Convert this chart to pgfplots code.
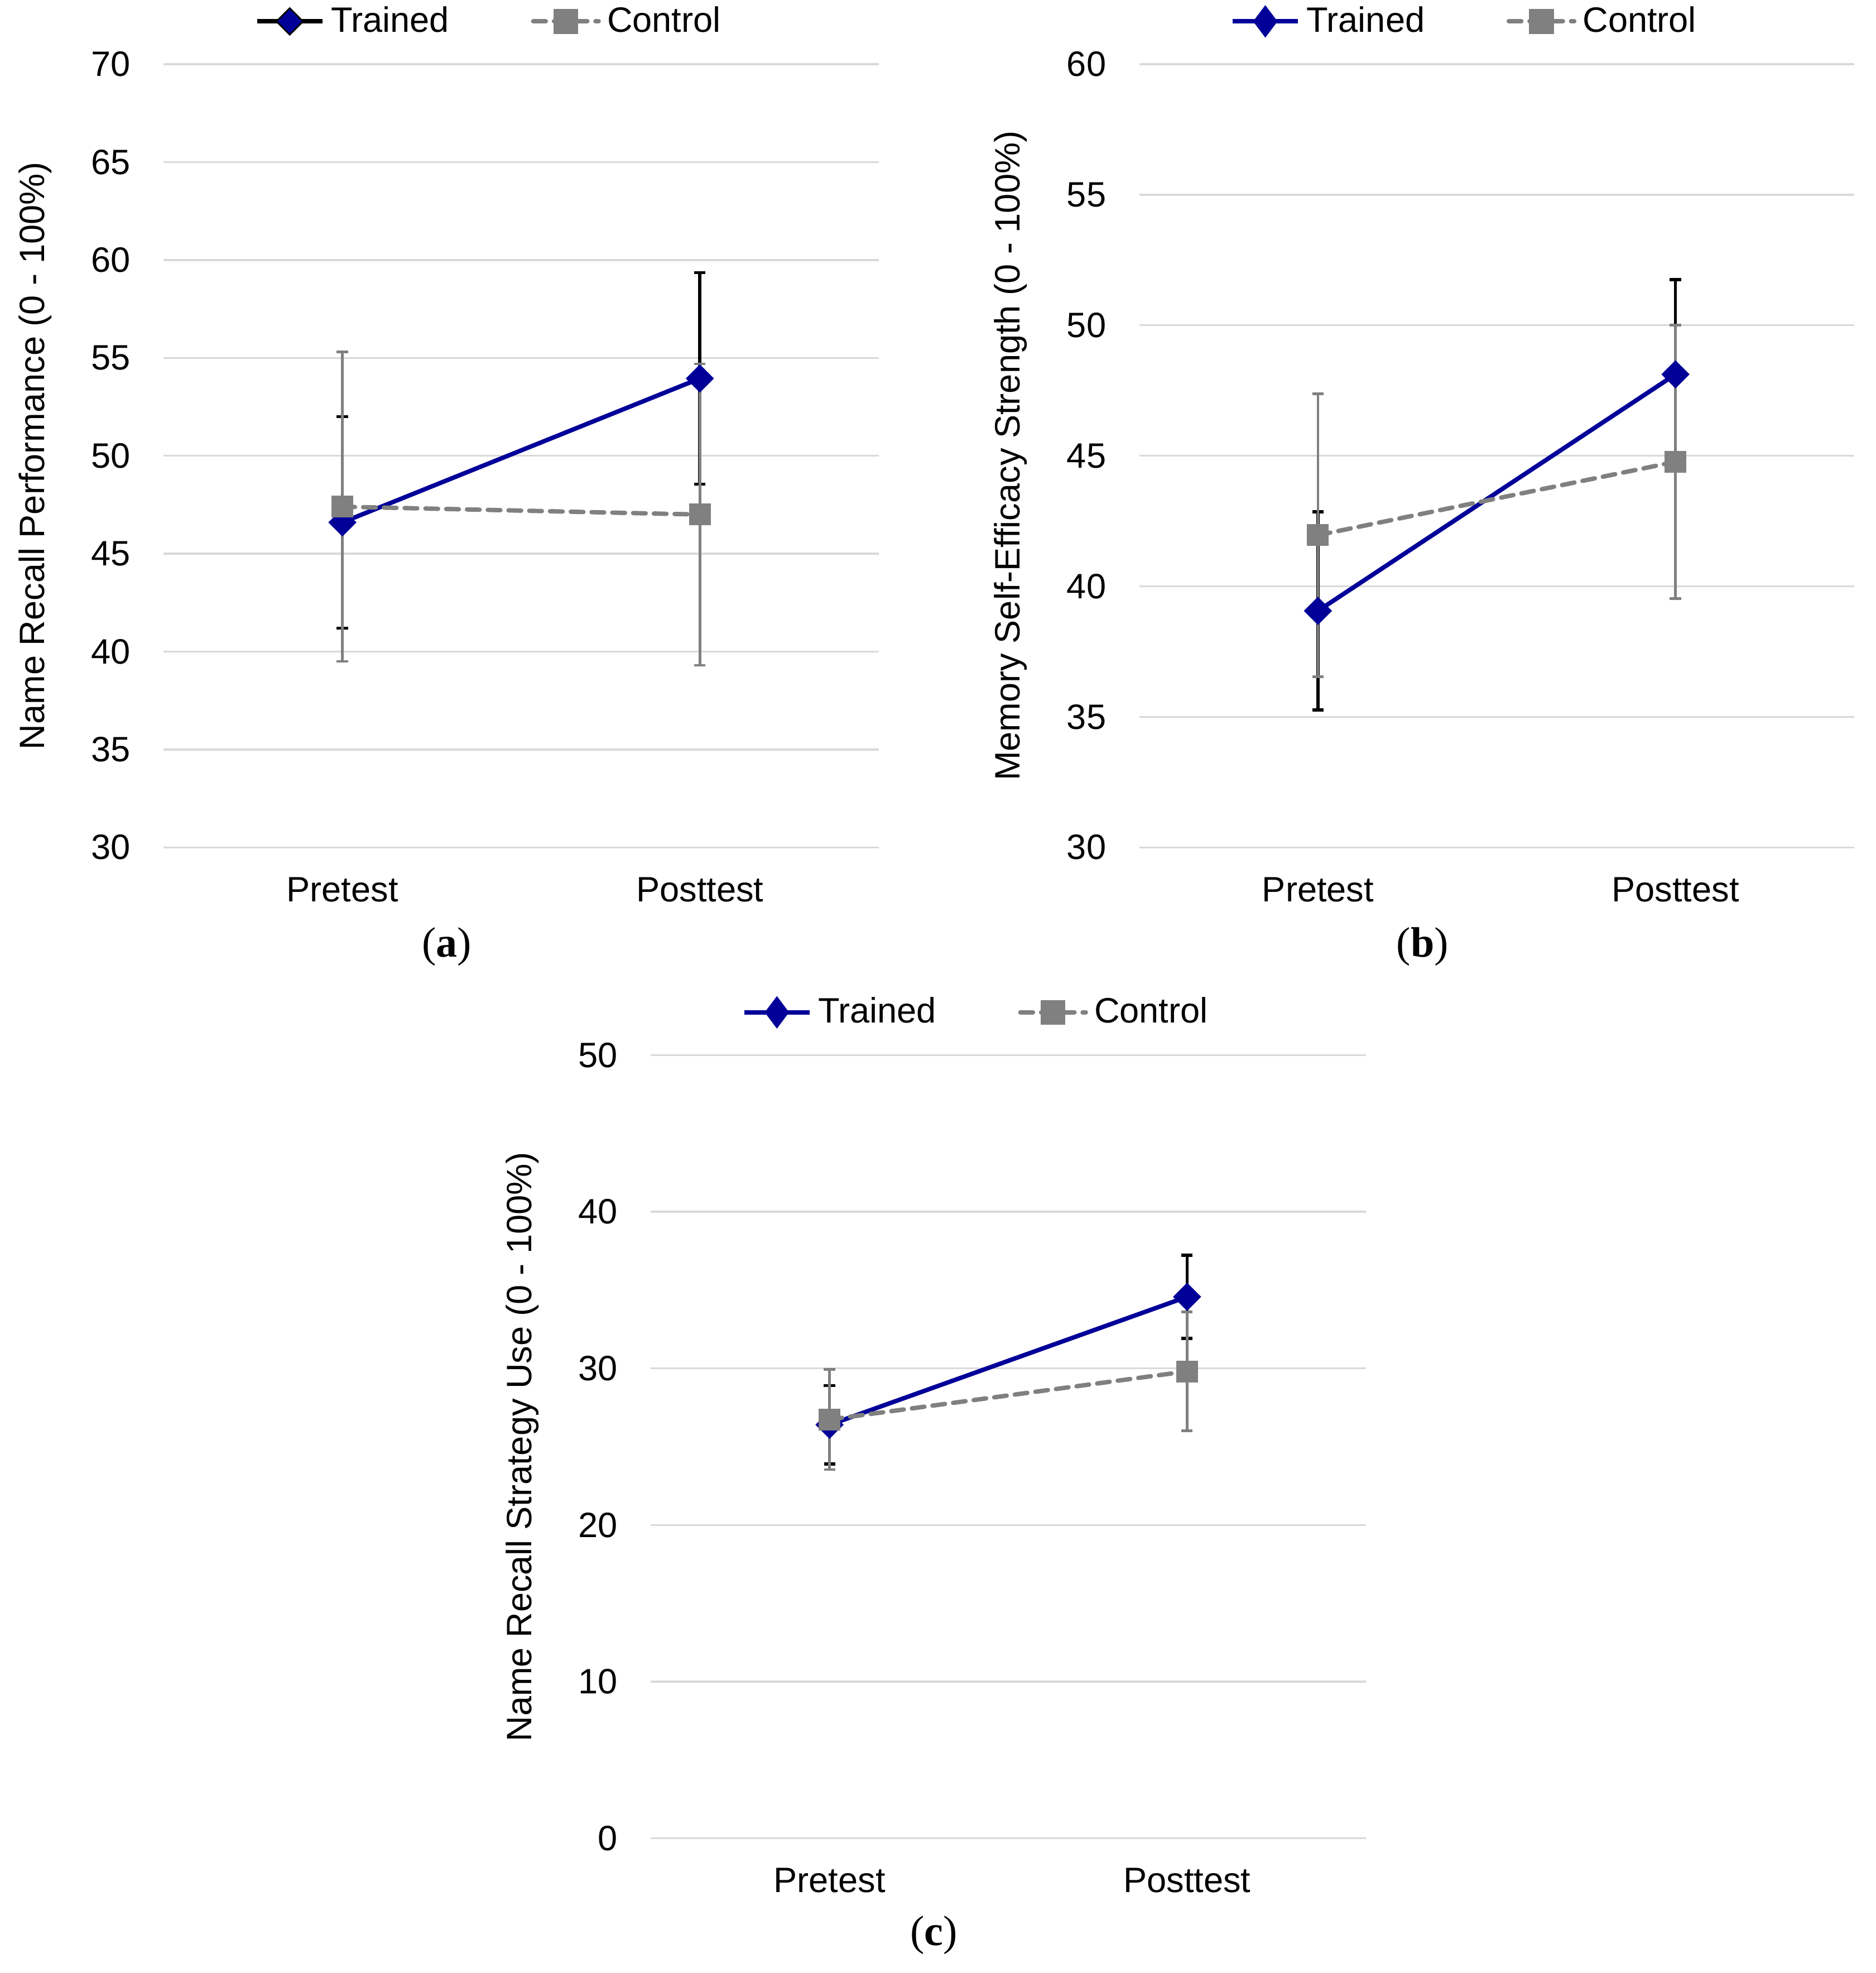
\documentclass[border=0pt]{standalone}
\usepackage{pgfplots}
\pgfplotsset{compat=1.18}
\usepackage{fontspec}
\setmainfont{Liberation Sans}
\newfontfamily\capfont{Liberation Serif}
\definecolor{tblue}{RGB}{0,0,153}
\definecolor{cgray}{RGB}{128,128,128}
\definecolor{gridc}{RGB}{217,217,217}
\newcommand{\cf}{\fontsize{11.2}{13.4}\selectfont}

\pgfplotsset{
  panel/.style={
    scale only axis, width=227.2pt, height=248.8pt,
    xmin=-0.5, xmax=1.5, xtick={0,1}, xticklabels={Pretest,Posttest},
    axis line style={draw=none}, major tick length=0pt,
    ymajorgrids, grid style={line width=0.6pt, gridc},
    tick label style={font=\cf, black},
    yticklabel style={xshift=-7pt}, xticklabel style={yshift=-6pt},
    every axis y label/.style={at={(axis description cs:0,0.5)}, xshift=-40.8pt, rotate=90, anchor=center, font=\cf},
    /pgf/number format/assume math mode=true,
    legend columns=2,
    legend style={draw=none, fill=none, at={(0.5,1)}, anchor=center, yshift=13.6pt, xshift=-9.6pt,
      font=\cf, /tikz/every even column/.append style={column sep=24pt}},
    legend image code/.code={\draw[mark repeat=2, mark phase=2, #1] plot coordinates {(0pt,0pt)(10.4pt,0pt)(20.8pt,0pt)};},
  },
  trained/.style={tblue, line width=1.4pt, mark=square*, mark size=2.97pt,
    mark options={rotate=45, solid, fill=tblue, draw=tblue, line width=0.4pt},
    error bars/.cd, y dir=both, y explicit, error mark=|,
    error bar style={line width=1pt, black, solid},
    error mark options={line width=1pt, black, mark size=1.8pt, solid}},
  control/.style={cgray, line width=1.4pt, dash pattern=on 4pt off 2.6pt, line cap=round,
    mark=square*, mark size=3.25pt, mark options={solid, fill=cgray, draw=cgray, line width=0.4pt},
    error bars/.cd, y dir=both, y explicit, error mark=|,
    error bar style={line width=0.8pt, cgray, solid},
    error mark options={line width=0.8pt, cgray, mark size=1.8pt, solid}},
}

\begin{document}
\begin{tikzpicture}
\useasboundingbox (0,0) rectangle (596pt,-626.8pt);

% (a)
\begin{axis}[panel, at={(52pt,-269.2pt)}, anchor=south west,
  ymin=30, ymax=70, ytick={30,35,...,70},
  ylabel={Name Recall Performance (0 - 100\%)}]
\addlegendimage{black, line width=1.4pt, mark=square*, mark size=2.97pt, mark options={rotate=45, fill=tblue, draw=black, line width=0.5pt}}
\addlegendentry{Trained}
\addlegendimage{cgray, line width=1.4pt, dash pattern=on 4pt off 2.6pt, line cap=round, mark=square*, mark size=3.25pt, mark options={solid, fill=cgray}}
\addlegendentry{Control}
\addplot+[forget plot, trained] coordinates {(0,46.6) +- (0,5.4) (1,53.95) +- (0,5.4)};
\addplot+[forget plot, control] coordinates {(0,47.4) +- (0,7.9) (1,47.0) +- (0,7.7)};
\end{axis}

% (b)
\begin{axis}[panel, at={(362pt,-269.2pt)}, anchor=south west,
  ymin=30, ymax=60, ytick={30,35,...,60},
  ylabel={Memory Self-Efficacy Strength (0 - 100\%)}]
\addlegendimage{tblue, line width=1.4pt, mark=diamond*, mark size=4pt, mark options={fill=tblue}}
\addlegendentry{Trained}
\addlegendimage{cgray, line width=1.4pt, dash pattern=on 4pt off 2.6pt, line cap=round, mark=square*, mark size=3.25pt, mark options={solid, fill=cgray}}
\addlegendentry{Control}
\addplot+[forget plot, trained] coordinates {(0,39.06) +- (0,3.8) (1,48.12) +- (0,3.63)};
\addplot+[forget plot, control] coordinates {(0,41.96) +- (0,5.42) (1,44.77) +- (0,5.24)};
\end{axis}

% (c)
\begin{axis}[panel, at={(206.8pt,-584pt)}, anchor=south west,
  ymin=0, ymax=50, ytick={0,10,...,50},
  ylabel={Name Recall Strategy Use (0 - 100\%)}]
\addlegendimage{tblue, line width=1.4pt, mark=diamond*, mark size=4pt, mark options={fill=tblue}}
\addlegendentry{Trained}
\addlegendimage{cgray, line width=1.4pt, dash pattern=on 4pt off 2.6pt, line cap=round, mark=square*, mark size=3.25pt, mark options={solid, fill=cgray}}
\addlegendentry{Control}
\addplot+[forget plot, trained] coordinates {(0,26.4) +- (0,2.5) (1,34.57) +- (0,2.65)};
\addplot+[forget plot, control] coordinates {(0,26.74) +- (0,3.2) (1,29.81) +- (0,3.8)};
\end{axis}

\node[font=\capfont\fontsize{13.5}{16}\selectfont] at (142pt,-300.8pt) {(\textbf{a})};
\node[font=\capfont\fontsize{13.5}{16}\selectfont] at (452pt,-300.8pt) {(\textbf{b})};
\node[font=\capfont\fontsize{13.5}{16}\selectfont] at (296.8pt,-614.8pt) {(\textbf{c})};
\end{tikzpicture}
\end{document}
